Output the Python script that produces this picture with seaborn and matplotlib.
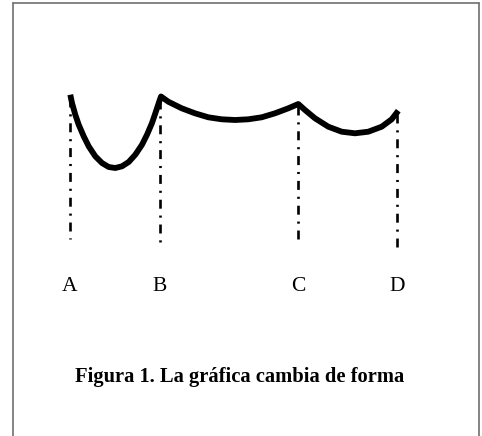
import matplotlib
matplotlib.use('Agg')
import matplotlib.pyplot as plt
from matplotlib.lines import Line2D
import pandas as pd
import seaborn as sns

# Punkte der Kurve (horizontale Lage, Höhe von oben gemessen)
arc_ab_x = [70.3, 72, 75.3, 78.7, 83.7, 88.7, 95.3, 102, 108.7, 115.3,
            122, 128.7, 135.3, 142, 147, 152, 156, 159.3, 161]
arc_ab_y = [94.7, 103, 114.7, 124.7, 136.3, 146.3, 156.3, 163, 167, 168,
            166.3, 162, 154.7, 144.7, 134.7, 123, 111.3, 101.3, 96.5]
arc_bc_x = [161, 168.3, 181.7, 195, 208.3, 221.7, 235, 248.3, 261.7, 275,
            288.3, 298.3]
arc_bc_y = [96.5, 101.7, 108.3, 113.3, 117.3, 119.3, 120, 119.3, 117.3,
            113.3, 108.3, 104]
arc_cd_x = [298.3, 305, 315, 328.3, 341.7, 355, 368.3, 381.7, 391.7, 398.3]
arc_cd_y = [104, 110, 118.3, 126.7, 131.7, 133.3, 131.7, 126.7, 119.3, 110.7]

# Senkrechte Linien bei A, B, C, D
point_labels = ['A', 'B', 'C', 'D']
point_x = [70, 160, 298, 397]
line_top = [98, 100, 106, 114]
line_bottom = [239, 242, 245, 250]
label_y = 286

caption = 'Figura 1. La gráfica cambia de forma'


def build_curve():
    df = pd.DataFrame({'x': arc_ab_x + arc_bc_x + arc_cd_x,
                       'y': arc_ab_y + arc_bc_y + arc_cd_y})
    return df


def main():
    sns.set_style('white')
    plt.rcParams['font.family'] = ['Liberation Serif', 'DejaVu Serif']

    fig = plt.figure(figsize=(4.82, 4.36), dpi=100)
    ax = fig.add_axes([0, 0, 1, 1])

    df_curve = build_curve()
    sns.lineplot(x='x', y='y', data=df_curve, sort=False, ax=ax,
                 color='black', linewidth=4.2, estimator=None,
                 solid_joinstyle='round', solid_capstyle='butt')

    # Strichpunktlinien
    for x, top, bottom in zip(point_x, line_top, line_bottom):
        ax.plot([x, x], [top, bottom], color='black', linewidth=1.9,
                linestyle=(0, (3.4, 2.6, 0.8, 2.6)))

    for x, lab in zip(point_x, point_labels):
        ax.text(x, label_y, lab, ha='center', va='center', fontsize=15.5,
                color='black')

    ax.set_xlim(0, 482)
    ax.set_ylim(436, 0)
    ax.axis('off')

    fig.text(240 / 482, 1 - 377 / 436, caption, ha='center', va='center',
             fontsize=14.8, fontweight='bold', color='black')

    # Rahmen (oben, links, rechts)
    frame_color = '#707070'
    fig.add_artist(Line2D([13 / 482, 13 / 482], [0, 1 - 3 / 436],
                          color=frame_color, linewidth=1.2))
    fig.add_artist(Line2D([479 / 482, 479 / 482], [0, 1 - 3 / 436],
                          color=frame_color, linewidth=1.2))
    fig.add_artist(Line2D([13 / 482, 479 / 482], [1 - 3 / 436, 1 - 3 / 436],
                          color=frame_color, linewidth=1.2))

    fig.savefig('out.png', dpi=100)


if __name__ == '__main__':
    main()
